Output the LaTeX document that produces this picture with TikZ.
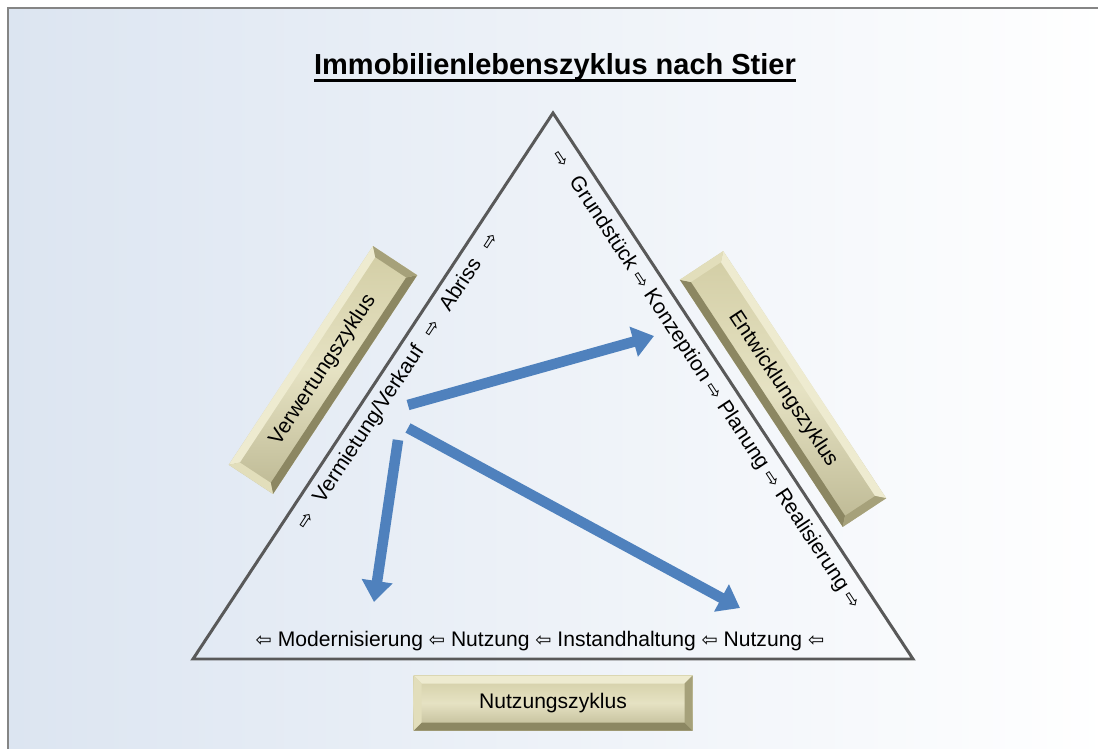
\documentclass[tikz,border=0pt]{standalone}
\usepackage{fontspec}
\setmainfont{Liberation Sans}
\newfontfamily\arrowfont{DejaVu Sans}
\usetikzlibrary{arrows.meta}

\definecolor{trigray}{HTML}{595959}
\definecolor{framegray}{HTML}{858585}
\definecolor{bgblue}{HTML}{DCE5F1}
\definecolor{flowblue}{HTML}{4F81BD}
\definecolor{boxface}{HTML}{D2CDA4}
\definecolor{boxlight}{HTML}{EEEBD0}
\definecolor{boxmid}{HTML}{E2DEBB}
\definecolor{boxdark}{HTML}{8C8762}
\definecolor{boxshade}{HTML}{A6A17A}

\newcommand{\flowR}{{\arrowfont\fontsize{11}{11}\selectfont ⇨}}
\newcommand{\flowL}{{\arrowfont\fontsize{11}{11}\selectfont ⇦}}
\newcommand{\gap}{\hskip0.7em}
\newcommand{\thickul}[1]{\leavevmode\setbox0\hbox{#1}\rlap{\rule[-4pt]{\wd0}{1.6pt}}\box0}

% bevelled box: name, centre, angle, length, height, text
\newcommand{\zyklusbox}[6]{%
\begin{scope}[shift={#2}, rotate=#3]
\shade[top color=boxface, bottom color=boxface!90!black, middle color=boxlight!70!boxface]
  ({-#4/2},{-#5/2}) rectangle ({#4/2},{#5/2});
\fill[boxlight] ({-#4/2},{-#5/2}) -- ({#4/2},{-#5/2}) -- ({#4/2-8},{-#5/2+8}) -- ({-#4/2+8},{-#5/2+8}) -- cycle;
\fill[boxdark] ({-#4/2},{#5/2}) -- ({#4/2},{#5/2}) -- ({#4/2-8},{#5/2-8}) -- ({-#4/2+8},{#5/2-8}) -- cycle;
\fill[boxmid] ({-#4/2},{-#5/2}) -- ({-#4/2+8},{-#5/2+8}) -- ({-#4/2+8},{#5/2-8}) -- ({-#4/2},{#5/2}) -- cycle;
\fill[boxshade] ({#4/2},{-#5/2}) -- ({#4/2-8},{-#5/2+8}) -- ({#4/2-8},{#5/2-8}) -- ({#4/2},{#5/2}) -- cycle;
\node[transform shape, lbl] (#1) at (0,0) {#6};
\end{scope}}

\tikzset{
  lbl/.style={font=\fontsize{12}{14}\selectfont, inner sep=0pt},
  tri/.style={draw=trigray, line width=1.7pt, line join=miter},
  flow/.style={draw=flowblue, line width=6pt, -{Triangle[width=17pt,length=12pt]}}
}

\begin{document}
\begin{tikzpicture}[x=0.02cm, y=-0.02cm]
\useasboundingbox (0,0) rectangle (1098,749);
% background and frame
\shade[left color=bgblue, right color=white] (8,8) rectangle (1110,760);
\draw[framegray, line width=1.6pt] (8,760) -- (8,8) -- (1110,8);

% title
\node[font=\bfseries\fontsize{16.5}{19}\selectfont] (title) at (555,68) {\thickul{Immobilienlebenszyklus nach Stier}};

% triangle
\coordinate (top) at (553,113);
\coordinate (right) at (913,659);
\coordinate (left) at (193,659);
\draw[tri] (top) -- (right) -- (left) -- cycle;

% cycle steps along the sides
\node[lbl, rotate=-56.6] (develop) at (706,380) {\flowR\gap Grundstück \flowR\ Konzeption \flowR\ Planung \flowR\ Realisierung \flowR};
\node[lbl] (use) at (540,641) {\flowL\ Modernisierung \flowL\ Nutzung \flowL\ Instandhaltung \flowL\ Nutzung \flowL};
\node[lbl, rotate=56.6] (exploit) at (398,381) {\flowR\gap Vermietung/Verkauf\gap\flowR\gap Abriss\gap\flowR};

% cycle boxes
\zyklusbox{nutz}{(553,703)}{0}{279}{55}{Nutzungszyklus}
\zyklusbox{verw}{(323,370)}{56.6}{262}{53}{Verwertungszyklus}
\zyklusbox{entw}{(783,389)}{-56.6}{296}{52}{Entwicklungszyklus}

% feedback arrows
\coordinate (src1) at (408,405);
\coordinate (src2) at (408,428);
\coordinate (src3) at (398,440);
\coordinate (konz) at (654,336);
\coordinate (inst) at (740,608);
\coordinate (mod) at (374,602);
\draw[flow] (src1) -- (konz);
\draw[flow] (src2) -- (inst);
\draw[flow] (src3) -- (mod);
\end{tikzpicture}
\end{document}
